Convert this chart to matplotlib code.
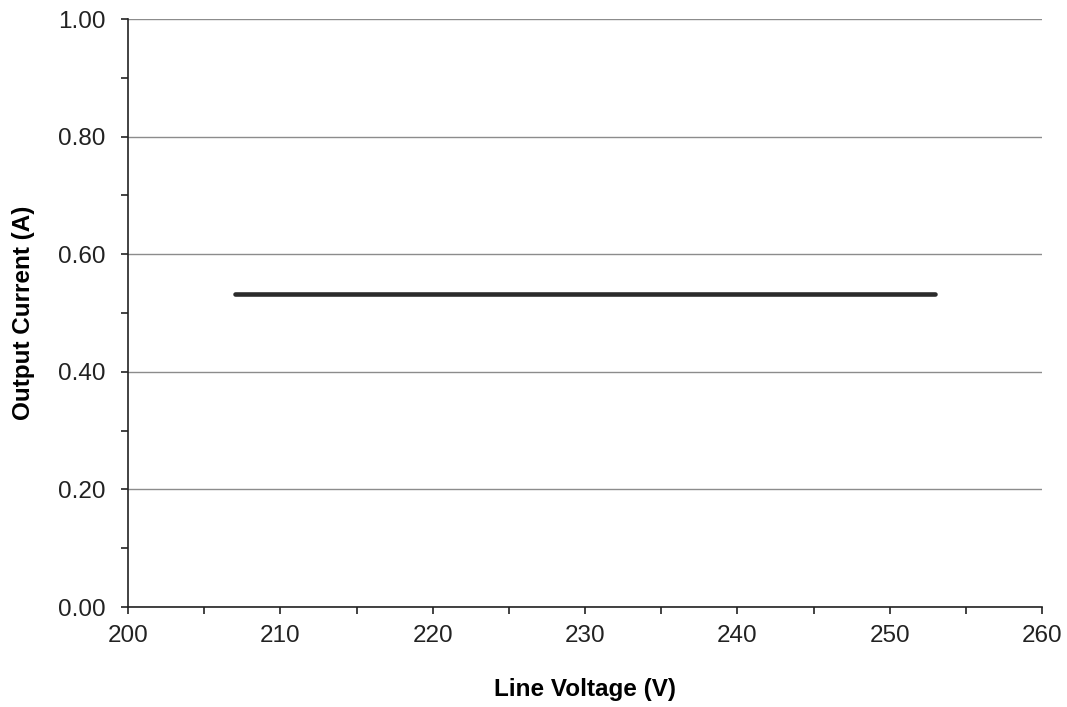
import matplotlib.pyplot as plt
import numpy as np
from matplotlib.ticker import MultipleLocator

plt.rcParams['font.family'] = ['Liberation Sans', 'DejaVu Sans']

# line voltage vs output current
voltage = [207, 210, 215, 220, 225, 230, 235, 240, 245, 250, 253]
current = [0.533, 0.533, 0.533, 0.533, 0.533, 0.533, 0.533, 0.533, 0.533, 0.533, 0.533]

fig = plt.figure(figsize=(10.67, 7.07), dpi=100)
ax = fig.add_axes([0.12, 0.1414, 0.8566, 0.8317])

ax.plot(voltage, current, color='#2b2b2b', lw=3.3, solid_capstyle='round')

ax.set_xlim(200, 260)
ax.set_ylim(0, 1.0)
ax.xaxis.set_major_locator(MultipleLocator(10))
ax.xaxis.set_minor_locator(MultipleLocator(5))
ax.yaxis.set_major_locator(MultipleLocator(0.2))
ax.yaxis.set_minor_locator(MultipleLocator(0.1))
ax.yaxis.set_major_formatter(plt.FormatStrFormatter('%.2f'))

ax.grid(axis='y', which='major', color='#8c8c8c', lw=1.0)
ax.set_axisbelow(True)
for s in ['top', 'right']:
    ax.spines[s].set_visible(False)
for s in ['left', 'bottom']:
    ax.spines[s].set_color('#222222')
    ax.spines[s].set_linewidth(1.2)

ax.tick_params(which='both', direction='out', length=5, width=1.2,
               color='#222222', labelsize=17.5, labelcolor='#222222')
ax.tick_params(axis='y', which='major', pad=11)
ax.tick_params(axis='x', which='major', pad=8)

ax.set_xlabel('Line Voltage (V)', fontsize=17.5, fontweight='bold', labelpad=22)
ax.set_ylabel('Output Current (A)', fontsize=17.5, fontweight='bold', labelpad=17)

fig.savefig('out.png', dpi=100)
